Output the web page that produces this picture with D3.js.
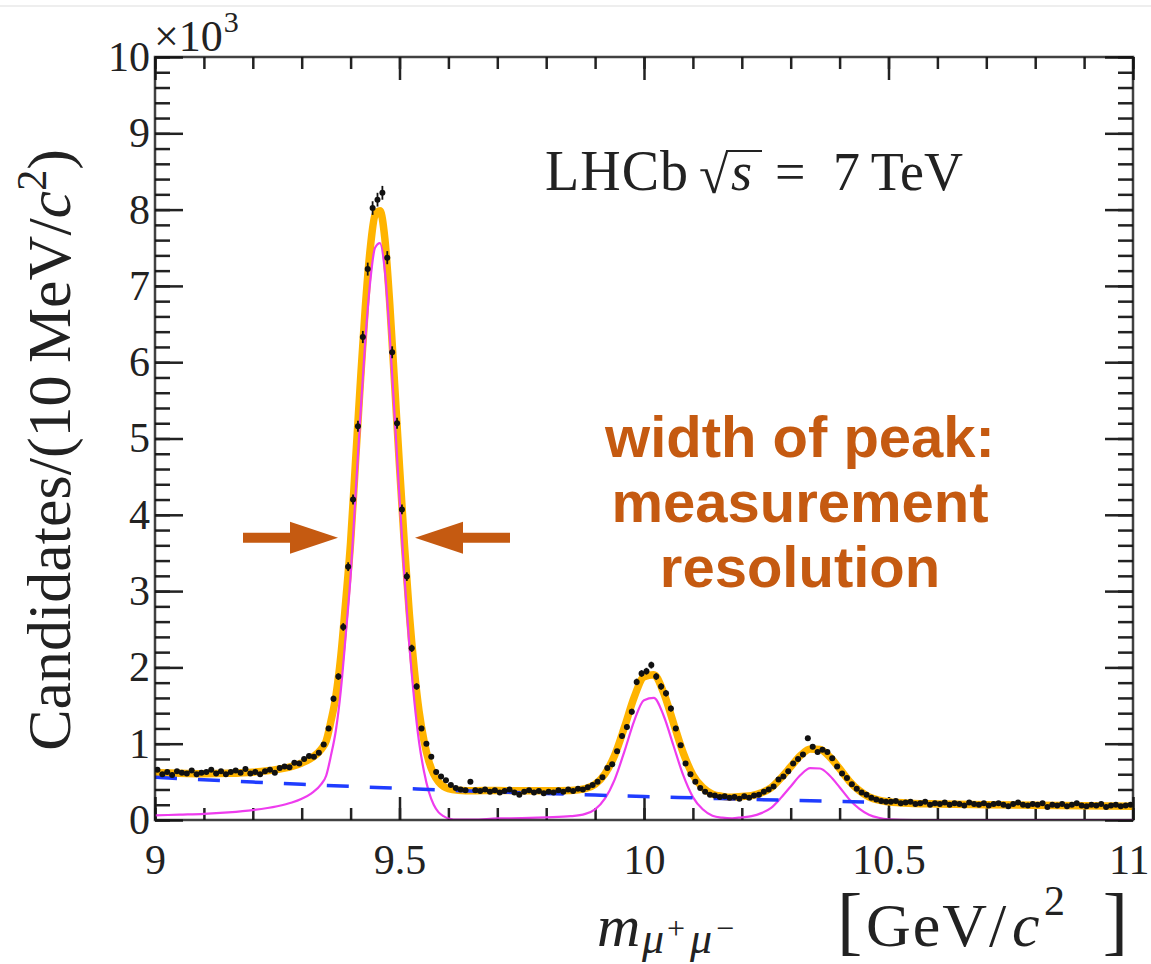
<!DOCTYPE html>
<html>
<head>
<meta charset="utf-8">
<script src="https://cdn.jsdelivr.net/npm/d3@7"></script>
<style>
  body { margin: 0; background: #fff; }
  svg { display: block; }
  .tick text { font-family: "Liberation Serif", serif; font-size: 42px; fill: #222; }
  .serif { font-family: "Liberation Serif", serif; fill: #222; }
  .note { font-family: "Liberation Sans", Arial, sans-serif; font-weight: bold; fill: #c55a11; }
</style>
</head>
<body>
<div class="chart"></div>
<script>
// m(mu+mu-) spectrum, 10 MeV bins from 9 to 11 GeV, counts in units of 10^3
let massRange = [9, 11];
let binWidth = 0.01;
let countRange = [0, 10];

let counts = [
  0.66, 0.60, 0.63, 0.59, 0.64, 0.62, 0.61, 0.65, 0.60, 0.62,
  0.63, 0.66, 0.61, 0.64, 0.60, 0.63, 0.65, 0.62, 0.67, 0.61,
  0.63, 0.60, 0.64, 0.66, 0.62,
  0.68, 0.70, 0.69, 0.75, 0.74, 0.80, 0.84, 0.83, 0.88, 0.99,
  1.20, 1.59, 1.88, 2.53, 3.32, 4.20, 5.16, 6.33, 7.22, 8.02,
  8.13, 8.22, 7.37, 6.13, 5.20, 4.07, 3.19, 2.25, 1.75, 1.20,
  1.00, 0.83, 0.63, 0.57, 0.52, 0.46, 0.42, 0.40, 0.39, 0.50,
  0.39, 0.38, 0.40, 0.37, 0.39, 0.36, 0.38, 0.40, 0.36, 0.33,
  0.37, 0.39, 0.36, 0.38, 0.35, 0.37, 0.36, 0.39, 0.37, 0.40,
  0.38, 0.41, 0.40, 0.43, 0.46, 0.50, 0.56, 0.68, 0.73, 0.90,
  1.10, 1.22, 1.42, 1.81, 1.92,
  1.95, 2.03, 1.88, 1.75, 1.66, 1.46, 1.20, 0.98, 0.74, 0.60,
  0.50, 0.42, 0.37, 0.33, 0.32, 0.30, 0.31, 0.29, 0.30, 0.28,
  0.31, 0.29, 0.32, 0.33, 0.37, 0.40, 0.44, 0.53, 0.57, 0.64,
  0.74, 0.80, 0.86, 1.07, 0.96, 0.89, 0.92, 0.89, 0.81, 0.70,
  0.61, 0.55, 0.47, 0.41, 0.36, 0.33, 0.29, 0.27, 0.25, 0.24,
  0.24, 0.25, 0.22, 0.23, 0.24, 0.21, 0.22, 0.24, 0.20, 0.22,
  0.21, 0.23, 0.20, 0.22, 0.21, 0.19, 0.23, 0.21, 0.20, 0.22,
  0.19, 0.21, 0.22, 0.20, 0.18, 0.21, 0.23, 0.20, 0.19, 0.21,
  0.20, 0.22, 0.17, 0.20, 0.19, 0.21, 0.18, 0.20, 0.22, 0.19,
  0.18, 0.20, 0.19, 0.21, 0.17, 0.19, 0.20, 0.18, 0.19, 0.20
];

// fit curves
let fitMass = [
  9.00, 9.05, 9.10, 9.15, 9.20, 9.25, 9.28, 9.30, 9.32, 9.34,
  9.35, 9.36, 9.37, 9.38, 9.39, 9.40, 9.41, 9.42, 9.43, 9.44,
  9.45, 9.46, 9.47, 9.48, 9.49, 9.50, 9.51, 9.52, 9.53, 9.54,
  9.55, 9.56, 9.57, 9.58, 9.59, 9.60, 9.62, 9.65, 9.70, 9.75,
  9.80, 9.85, 9.88, 9.90, 9.92, 9.94, 9.96, 9.98, 10.00, 10.02,
  10.04, 10.06, 10.08, 10.10, 10.12, 10.14, 10.16, 10.18, 10.20, 10.22,
  10.24, 10.26, 10.28, 10.30, 10.32, 10.34, 10.36, 10.38, 10.40, 10.42,
  10.44, 10.46, 10.48, 10.50, 10.55, 10.60, 10.70, 10.80, 10.90, 11.00
];
let fitTotal = [
  0.620, 0.613, 0.607, 0.612, 0.627, 0.663, 0.704, 0.748, 0.813, 0.927,
  1.034, 1.301, 1.628, 2.146, 2.863, 3.640, 4.687, 5.735, 6.712, 7.479,
  7.927, 7.984, 7.622, 6.769, 5.716, 4.635, 3.612, 2.709, 1.987, 1.424,
  1.042, 0.770, 0.600, 0.500, 0.440, 0.410, 0.391, 0.384, 0.388, 0.382,
  0.382, 0.386, 0.410, 0.467, 0.603, 0.849, 1.215, 1.611, 1.877, 1.904,
  1.670, 1.277, 0.883, 0.590, 0.426, 0.339, 0.310, 0.298, 0.308, 0.320,
  0.356, 0.423, 0.550, 0.697, 0.844, 0.931, 0.923, 0.825, 0.672, 0.509,
  0.386, 0.303, 0.259, 0.238, 0.217, 0.210, 0.201, 0.193, 0.186, 0.180
];
let fitSignal = [
  0.06, 0.07, 0.08, 0.10, 0.13, 0.18, 0.23, 0.28, 0.35, 0.47,
  0.58, 0.85, 1.18, 1.70, 2.42, 3.20, 4.25, 5.30, 6.28, 7.05,
  7.50, 7.56, 7.20, 6.35, 5.30, 4.22, 3.20, 2.30, 1.58, 1.02,
  0.64, 0.37, 0.20, 0.10, 0.05, 0.02, 0.004, 0.005, 0.02, 0.025,
  0.035, 0.05, 0.08, 0.14, 0.28, 0.53, 0.90, 1.30, 1.57, 1.60,
  1.37, 0.98, 0.59, 0.30, 0.14, 0.056, 0.03, 0.022, 0.035, 0.05,
  0.09, 0.16, 0.29, 0.44, 0.59, 0.68, 0.675, 0.58, 0.43, 0.27,
  0.15, 0.07, 0.029, 0.01, 0, 0, 0, 0, 0, 0
];
let bgMass = [9.0, 9.1, 9.2, 9.3, 9.4, 9.5, 9.6, 9.7, 9.8, 9.9, 10.0, 10.1, 10.2, 10.3, 10.4, 10.45];
let bgValues = [0.560, 0.527, 0.497, 0.468, 0.440, 0.415, 0.390, 0.368, 0.347, 0.327, 0.307, 0.290, 0.273, 0.257, 0.242, 0.235];

let xMajorTicks = [9, 9.5, 10, 10.5, 11];
let yMajorTicks = [0, 1, 2, 3, 4, 5, 6, 7, 8, 9, 10];
let noteLines = ["width of peak:", "measurement", "resolution"];

let margin = {
  top: 57,
  left: 155,
  right: 18,
  bottom: 144
};
let W = 1151;
let H = 964;
let width = W - margin.left - margin.right;
let height = H - margin.top - margin.bottom;

let svgRoot = d3.select(".chart")
  .append("svg")
  .attr("width", W)
  .attr("height", H);

// thin grey line at the very top of the image
svgRoot.append("line")
  .attr("x1", 0).attr("x2", W)
  .attr("y1", 6).attr("y2", 6)
  .attr("stroke", "#e8e8e8")
  .attr("stroke-width", 1.5);

let svg = svgRoot.append("g")
  .attr("transform", "translate(" + margin.left + "," + margin.top + ")");

let x = d3.scaleLinear().domain(massRange).range([0, width]);
let y = d3.scaleLinear().domain(countRange).range([height, 0]);

svg.append("clipPath").attr("id", "plotclip")
  .append("rect")
  .attr("x", 0).attr("y", -2)
  .attr("width", width).attr("height", height + 2);

function tidy(g) {
  g.select(".domain").remove();
  g.selectAll(".tick line").attr("stroke", "#222").attr("stroke-width", 2.5);
}

// minor ticks
svg.append("g").attr("transform", "translate(0," + height + ")")
  .call(d3.axisBottom(x).ticks(20).tickSize(-12).tickFormat("")).call(tidy);
svg.append("g")
  .call(d3.axisTop(x).ticks(20).tickSize(-12).tickFormat("")).call(tidy);
svg.append("g")
  .call(d3.axisLeft(y).ticks(50).tickSize(-15).tickFormat("")).call(tidy);
svg.append("g").attr("transform", "translate(" + width + ",0)")
  .call(d3.axisRight(y).ticks(50).tickSize(-15).tickFormat("")).call(tidy);

// major ticks
let xAxis = svg.append("g").attr("transform", "translate(0," + height + ")")
  .call(d3.axisBottom(x).tickValues(xMajorTicks).tickSize(-23).tickPadding(24).tickFormat(d3.format("")))
  .call(tidy);
// last label sits against the right edge of the image
xAxis.selectAll(".tick text")
  .filter(function(d) { return d === massRange[1]; })
  .attr("text-anchor", "end")
  .attr("x", 16);
svg.append("g")
  .call(d3.axisTop(x).tickValues(xMajorTicks).tickSize(-23).tickFormat(""))
  .call(tidy);
svg.append("g")
  .call(d3.axisLeft(y).tickValues(yMajorTicks).tickSize(-28).tickPadding(5).tickFormat(d3.format("d")))
  .call(tidy);
svg.append("g").attr("transform", "translate(" + width + ",0)")
  .call(d3.axisRight(y).tickValues(yMajorTicks).tickSize(-28).tickFormat(""))
  .call(tidy);

let plot = svg.append("g").attr("clip-path", "url(#plotclip)");

let fitLine = d3.line()
  .x(function(d) { return x(d[0]); })
  .y(function(d) { return y(d[1]); })
  .curve(d3.curveMonotoneX);

plot.append("path")
  .datum(d3.zip(fitMass, fitTotal))
  .attr("d", fitLine)
  .attr("fill", "none")
  .attr("stroke", "#ffb400")
  .attr("stroke-width", 7.5);

plot.append("path")
  .datum(d3.zip(fitMass, fitSignal))
  .attr("d", fitLine)
  .attr("fill", "none")
  .attr("stroke", "#ee3cee")
  .attr("stroke-width", 2.2);

plot.append("path")
  .datum(d3.zip(bgMass, bgValues))
  .attr("d", fitLine)
  .attr("fill", "none")
  .attr("stroke", "#1f3cff")
  .attr("stroke-width", 3.5)
  .attr("stroke-dasharray", "22,21");

// data points with poisson errors
let bins = counts.map(function(c, i) {
  return { m: massRange[0] + (i + 0.5) * binWidth, n: c, err: Math.sqrt(c * 1000) / 1000 };
});

let pts = plot.append("g").selectAll("g")
  .data(bins)
  .enter()
  .append("g");

pts.append("line")
  .attr("x1", function(d) { return x(d.m); })
  .attr("x2", function(d) { return x(d.m); })
  .attr("y1", function(d) { return y(d.n - d.err); })
  .attr("y2", function(d) { return y(d.n + d.err); })
  .attr("stroke", "#111")
  .attr("stroke-width", 1.8);

pts.append("line")
  .attr("x1", function(d) { return x(d.m - binWidth / 2); })
  .attr("x2", function(d) { return x(d.m + binWidth / 2); })
  .attr("y1", function(d) { return y(d.n); })
  .attr("y2", function(d) { return y(d.n); })
  .attr("stroke", "#111")
  .attr("stroke-width", 1.5);

pts.append("circle")
  .attr("cx", function(d) { return x(d.m); })
  .attr("cy", function(d) { return y(d.n); })
  .attr("r", 3)
  .attr("fill", "#111");

// frame
svg.append("rect")
  .attr("width", width)
  .attr("height", height)
  .attr("fill", "none")
  .attr("stroke", "#111")
  .attr("stroke-opacity", 0.8)
  .attr("stroke-width", 2.5);

// x10^3
let expo = svgRoot.append("text").attr("class", "serif")
  .attr("x", 154).attr("y", 51)
  .attr("font-size", 44);
expo.append("tspan").text("\u00d710");
expo.append("tspan").attr("dx", 1).attr("dy", -19).attr("font-size", 30).text("3");

// y title
let ytitle = svgRoot.append("text").attr("class", "serif")
  .attr("transform", "translate(70,450) rotate(-90)")
  .attr("text-anchor", "middle")
  .attr("font-size", 62);
ytitle.append("tspan").text("Candidates/(10\u2009MeV/");
ytitle.append("tspan").style("font-style", "italic").text("c");
ytitle.append("tspan").attr("dy", -24).attr("font-size", 42).text("2");
ytitle.append("tspan").attr("dy", 24).text(")");

// x title: m_{mu+ mu-}
svgRoot.append("text").attr("class", "serif")
  .attr("x", 597).attr("y", 946)
  .attr("font-size", 60).style("font-style", "italic")
  .text("m");
let subParts = [
  { t: "\u03bc", x: 642, y: 953, s: 44, it: true },
  { t: "+", x: 667, y: 939, s: 32, it: false },
  { t: "\u03bc", x: 690, y: 953, s: 44, it: true },
  { t: "\u2212", x: 716, y: 939, s: 32, it: false }
];
svgRoot.append("g").selectAll("text")
  .data(subParts)
  .enter()
  .append("text")
  .attr("class", "serif")
  .attr("x", function(d) { return d.x; })
  .attr("y", function(d) { return d.y; })
  .attr("font-size", function(d) { return d.s; })
  .style("font-style", function(d) { return d.it ? "italic" : "normal"; })
  .text(function(d) { return d.t; });

// [GeV/c^2]
svgRoot.append("text").attr("class", "serif")
  .attr("x", 837).attr("y", 946)
  .attr("font-size", 76)
  .text("[");
svgRoot.append("text").attr("class", "serif")
  .attr("x", 866).attr("y", 946)
  .attr("font-size", 62)
  .style("letter-spacing", "2px")
  .text("GeV/");
svgRoot.append("text").attr("class", "serif")
  .attr("x", 1012).attr("y", 946)
  .attr("font-size", 62).style("font-style", "italic")
  .text("c");
svgRoot.append("text").attr("class", "serif")
  .attr("x", 1044).attr("y", 915)
  .attr("font-size", 42)
  .text("2");
svgRoot.append("text").attr("class", "serif")
  .attr("x", 1128).attr("y", 946)
  .attr("text-anchor", "end")
  .attr("font-size", 76)
  .text("]");

// LHCb sqrt(s) = 7 TeV
svgRoot.append("text").attr("class", "serif")
  .attr("x", 545).attr("y", 190)
  .attr("font-size", 56)
  .style("letter-spacing", "1px")
  .text("LHCb");
svgRoot.append("text").attr("class", "serif")
  .attr("x", 699).attr("y", 193)
  .attr("font-size", 54)
  .text("\u221a");
svgRoot.append("line")
  .attr("x1", 726).attr("x2", 762)
  .attr("y1", 151).attr("y2", 151)
  .attr("stroke", "#222").attr("stroke-width", 2);
svgRoot.append("text").attr("class", "serif")
  .attr("x", 731).attr("y", 190)
  .attr("font-size", 54).style("font-style", "italic")
  .text("s");
svgRoot.append("text").attr("class", "serif")
  .attr("x", 775).attr("y", 190)
  .attr("font-size", 54)
  .text("=");
svgRoot.append("text").attr("class", "serif")
  .attr("x", 833).attr("y", 190)
  .attr("font-size", 54)
  .text("7\u2009TeV");

// annotation
svgRoot.append("g").selectAll("text")
  .data(noteLines)
  .enter()
  .append("text")
  .attr("class", "note")
  .attr("x", 800)
  .attr("y", function(d, i) { return 457 + i * 65; })
  .attr("text-anchor", "middle")
  .attr("font-size", 58)
  .text(function(d) { return d; });

let arrowColor = "#c55a11";
let arrowY = y(3.7) + margin.top;
svgRoot.append("path")
  .attr("d", "M243," + (arrowY - 5) + "H290V" + (arrowY - 16) + "L338," + arrowY + "L290," + (arrowY + 16) + "V" + (arrowY + 5) + "H243Z")
  .attr("fill", arrowColor);
svgRoot.append("path")
  .attr("d", "M510," + (arrowY - 5) + "H463V" + (arrowY - 16) + "L415," + arrowY + "L463," + (arrowY + 16) + "V" + (arrowY + 5) + "H510Z")
  .attr("fill", arrowColor);
</script>
</body>
</html>
